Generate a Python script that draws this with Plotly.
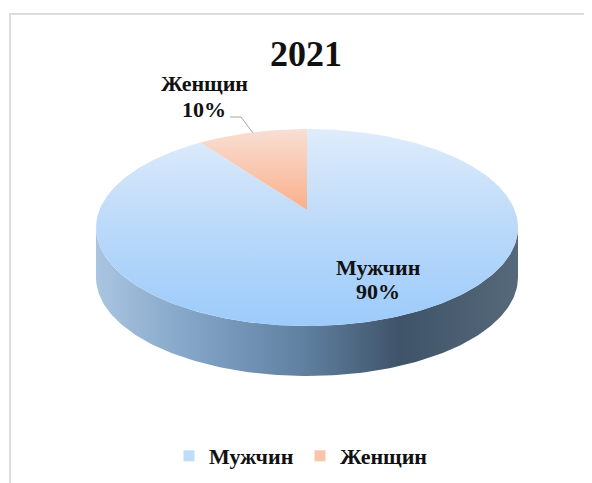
import numpy as np
import plotly.graph_objects as go

title = "2021"
categories = ["Мужчин", "Женщин"]
values = [90, 10]
colors_top = [["#9CCBFB", "#BBD9F9", "#DFECFB"], ["#FBAF8A", "#F8DFD4"]]
legend_colors = ["#BFDCFB", "#FCC4AA"]

# The page body has an 8px margin, so the figure is 584x475 and its axes
# run in page pixels from 8 onward.
W, H, OFF = 592, 483, 8

# pie geometry, in page pixels
CX, CY, RX, RY, DEPTH = 307.0, 227.5, 211.0, 98.5, 50.0
APEX_RISE = 17.5
k = APEX_RISE / RY
AX = RX * np.sqrt(1 - k * k)

def project(theta):
    """theta: clockwise from top, radians. Perspective projection of a circle."""
    s, c = np.sin(theta), np.cos(theta)
    d = 1 + k * c
    return CX + AX * s / d, CY - (RY * c + APEX_RISE) / d

shares = np.array(values, dtype=float) / sum(values)
ends = np.cumsum(shares) * 2 * np.pi
starts = ends - shares * 2 * np.pi

fig = go.Figure()

# side wall: front half of the rim, pushed down by the depth
t = np.linspace(0, np.pi, 181)
xb = CX + RX * np.cos(t)
yb = CY + RY * np.sin(t)
side_x = np.r_[xb, xb[::-1]]
side_y = np.r_[yb + DEPTH, yb[::-1]]
fig.add_trace(go.Scatter(
    x=side_x, y=side_y, mode="lines", fill="toself", line=dict(width=0),
    fillgradient=dict(type="horizontal", colorscale=[
        [0, "#A9C5E0"], [0.25, "#7FA1C4"], [0.5, "#5F7F9F"],
        [0.72, "#3F5369"], [1, "#56697A"]]),
    showlegend=False, hoverinfo="skip"))

# top face slices
for i, cat in enumerate(categories):
    th = np.linspace(starts[i], ends[i], 361)
    px, py = project(th)
    ax, ay = CX, CY - APEX_RISE
    stops = colors_top[i]
    fig.add_trace(go.Scatter(
        x=np.r_[ax, px, ax], y=np.r_[ay, py, ay], mode="lines", fill="toself",
        line=dict(width=0),
        fillgradient=dict(type="vertical", colorscale=[
            [j / (len(stops) - 1), c] for j, c in enumerate(stops)]),
        showlegend=False, hoverinfo="skip"))

# legend entries
for cat, col in zip(categories, legend_colors):
    fig.add_trace(go.Scatter(
        x=[None], y=[None], mode="markers", name=f"<b>{cat}</b>",
        marker=dict(symbol="square", size=11, color=col, line=dict(width=0))))

FONT = "Liberation Serif"
INK = "#111111"
def label(x, y, text, size):
    fig.add_annotation(x=x, y=y, xref="x", yref="y", showarrow=False,
                       text=f"<b>{text}</b>",
                       font=dict(family=FONT, size=size, color=INK))

label(378, 267, categories[0], 22)
label(378, 291, f"{values[0]}%", 22)
label(204, 83, categories[1], 22)
label(204, 109, f"{values[1]}%", 22)
label(306, 54, title, 36)

# leader line and chart frame
fig.add_shape(type="path", path="M230,117 L241,117 L253,133", xref="x", yref="y",
              line=dict(color="#A6A6A6", width=1))
fig.add_shape(type="line", x0=10, x1=10, y0=14, y1=H, xref="x", yref="y",
              line=dict(color="#DCDCDC", width=2))
fig.add_shape(type="line", x0=9, x1=W, y0=14, y1=14, xref="x", yref="y",
              line=dict(color="#DCDCDC", width=2))

fig.update_layout(
    width=W - OFF, height=H - OFF, margin=dict(l=0, r=0, t=0, b=0),
    paper_bgcolor="white", plot_bgcolor="white",
    xaxis=dict(range=[OFF, W], visible=False, fixedrange=True),
    yaxis=dict(range=[H, OFF], visible=False, fixedrange=True),
    showlegend=True,
    legend=dict(orientation="h", x=(169 - OFF) / (W - OFF), xanchor="left",
                y=(H - 456) / (H - OFF), yanchor="middle",
                entrywidth=86, entrywidthmode="pixels",
                font=dict(family=FONT, size=22, color=INK),
                bgcolor="rgba(0,0,0,0)", traceorder="normal", itemclick=False,
                itemdoubleclick=False),
)
fig.write_html("out.html", config=dict(displayModeBar=False))
